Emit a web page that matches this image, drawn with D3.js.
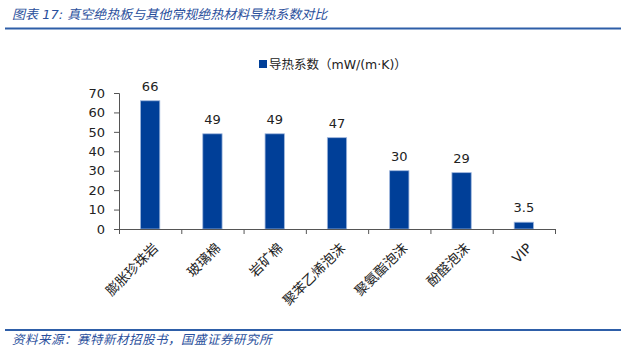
<!DOCTYPE html>
<html>
<head>
<meta charset="utf-8">
<script src="https://cdn.jsdelivr.net/npm/d3@7"></script>
<style>
  body { margin: 0; background: #fff; }
  svg { display: block; }
  text { font-family: "DejaVu Sans", "Noto Sans CJK SC", sans-serif; }
</style>
</head>
<body>
<div id="chart"></div>
<script>
let categories = ['膨胀珍珠岩', '玻璃棉', '岩矿棉', '聚苯乙烯泡沫', '聚氨酯泡沫', '酚醛泡沫', 'VIP'];
let values = [66, 49, 49, 47, 30, 29, 3.5];
let yTicks = [0, 10, 20, 30, 40, 50, 60, 70];
let seriesName = '导热系数（mW/(m·K)）';
let titleText = '图表 17:  真空绝热板与其他常规绝热材料导热系数对比';
let sourceText = '资料来源：赛特新材招股书，国盛证券研究所';

function barChart() {
    let W = 621, H = 354;
    let margin = {top: 93, left: 119, right: 66, bottom: 125};
    let width = W - margin.left - margin.right;
    let height = H - margin.top - margin.bottom;
    let barColor = '#003f98';
    let cjk = '"Noto Sans CJK SC", sans-serif';

    let svg = d3.select('#chart').append('svg')
                .attr('width', W)
                .attr('height', H);

    // header / footer
    svg.append('text')
        .attr('x', 12).attr('y', 19)
        .attr('font-family', cjk)
        .attr('font-style', 'italic')
        .attr('font-size', 13)
        .attr('fill', '#2a4f9c')
        .text(titleText);

    svg.append('line')
        .attr('x1', 5).attr('x2', W).attr('y1', 28.5).attr('y2', 28.5)
        .attr('stroke', '#2e5ea8').attr('stroke-width', 2);

    svg.append('line')
        .attr('x1', 5).attr('x2', W).attr('y1', 330).attr('y2', 330)
        .attr('stroke', '#2e5ea8').attr('stroke-width', 2);

    svg.append('text')
        .attr('x', 12).attr('y', 344)
        .attr('font-family', cjk)
        .attr('font-style', 'italic')
        .attr('font-size', 12.5)
        .attr('letter-spacing', 0.5)
        .attr('fill', '#2a4f9c')
        .text(sourceText);

    let plot = svg.append('g')
                  .attr('transform', 'translate(' + margin.left + ',' + margin.top + ')');

    let xScale = d3.scaleBand()
                    .domain(categories)
                    .range([0, width])
                    .paddingInner(0.69)
                    .paddingOuter(0.345);

    let yScale = d3.scaleLinear()
                    .domain([0, 70])
                    .range([height, 0]);

    plot.selectAll('.bar')
        .data(values)
        .enter()
        .append('rect')
        .attr('class', 'bar')
        .attr('x', function(d, i) { return xScale(categories[i]); })
        .attr('y', function(d) { return yScale(d); })
        .attr('width', xScale.bandwidth())
        .attr('height', function(d) { return height - yScale(d); })
        .attr('fill', barColor)
        .attr('stroke', '#9fb6dc')
        .attr('stroke-width', 0.8);

    plot.selectAll('.label')
        .data(values)
        .enter()
        .append('text')
        .attr('class', 'label')
        .attr('x', function(d, i) { return xScale(categories[i]) + xScale.bandwidth() / 2; })
        .attr('y', function(d) { return yScale(d) - 10; })
        .attr('text-anchor', 'middle')
        .attr('font-size', 13)
        .attr('fill', '#222')
        .text(function(d) { return d; });

    /* y axis */
    let yAxis = d3.axisLeft(yScale)
        .tickValues(yTicks)
        .tickSize(5)
        .tickPadding(9);

    let gy = plot.append('g').call(yAxis);
    gy.select('.domain').attr('stroke', '#555').attr('d', 'M-5,0.5H0.5V' + height);
    gy.selectAll('.tick line').attr('stroke', '#555');
    gy.selectAll('.tick text').attr('font-size', 13).attr('fill', '#222')
        .attr('font-family', '"DejaVu Sans", sans-serif');

    /* x axis: ticks on category boundaries */
    let step = xScale.step();
    let boundaries = d3.range(categories.length + 1).map(function(i) { return i * step; });

    let gx = plot.append('g').attr('transform', 'translate(0,' + height + ')');
    gx.append('line')
        .attr('x1', 0).attr('x2', width).attr('y1', 0.5).attr('y2', 0.5)
        .attr('stroke', '#555');
    gx.selectAll('.xtick')
        .data(boundaries)
        .enter()
        .append('line')
        .attr('x1', function(d) { return d + 0.5; })
        .attr('x2', function(d) { return d + 0.5; })
        .attr('y1', 0).attr('y2', 5)
        .attr('stroke', '#555');

    gx.selectAll('.xlabel')
        .data(categories)
        .enter()
        .append('text')
        .attr('class', 'xlabel')
        .attr('text-anchor', 'end')
        .attr('font-size', 13.5)
        .attr('font-family', cjk)
        .attr('fill', '#222')
        .attr('transform', function(d) {
            let cx = xScale(d) + xScale.bandwidth() / 2 + 9;
            return 'translate(' + cx + ',20) rotate(-45)';
        })
        .text(function(d) { return d; });

    /* legend */
    let legend = svg.append('g').attr('transform', 'translate(259,60)');
    legend.append('rect')
        .attr('width', 8).attr('height', 8)
        .attr('fill', barColor);
    legend.append('text')
        .attr('x', 10).attr('y', 8.5)
        .attr('font-size', 12.5)
        .attr('font-family', cjk)
        .attr('fill', '#222')
        .text(seriesName);
}

barChart();
</script>
</body>
</html>
